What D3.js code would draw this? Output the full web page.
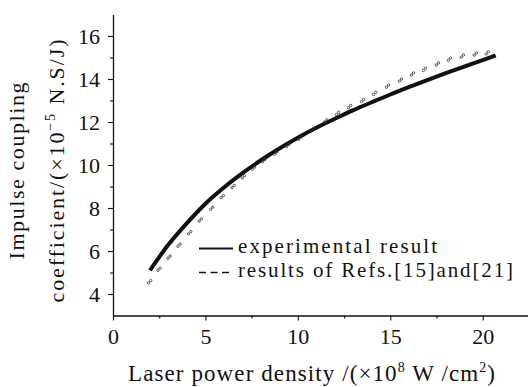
<!DOCTYPE html>
<html>
<head>
<meta charset="utf-8">
<script src="https://cdn.jsdelivr.net/npm/d3@7"></script>
<style>
  body { margin: 0; background: #fff; }
</style>
</head>
<body>
<svg id="chart" width="528" height="387"></svg>
<script>
// experimental result (solid curve)
var expX = [2, 3, 4, 5, 6, 7, 8, 9, 10, 11, 12, 13, 14, 15, 16, 17, 18, 19, 20, 20.7];
var expY = [5.1, 6.3, 7.3, 8.2, 8.95, 9.62, 10.22, 10.77, 11.27, 11.73, 12.15, 12.55, 12.92, 13.28, 13.62, 13.95, 14.27, 14.58, 14.88, 15.1];

// results of Refs.[15] and [21] (markers)
var refX = [1.98, 2.49, 3.03, 3.57, 4.15, 4.72, 5.34, 5.91, 6.5, 7.05, 7.6, 8.15, 8.8, 9.45, 10.1, 10.8, 11.5, 12.15, 12.8, 13.5, 14.15, 14.85, 15.55, 16.2, 16.85, 17.55, 18.2, 18.9, 19.6, 20.25];
var refY = [4.57, 5.15, 5.71, 6.27, 6.85, 7.44, 7.99, 8.53, 9.0, 9.45, 9.85, 10.2, 10.55, 10.9, 11.25, 11.65, 12.05, 12.4, 12.72, 13.0, 13.33, 13.67, 13.95, 14.23, 14.45, 14.7, 14.92, 15.07, 15.16, 15.22];

var xTicks = [0, 5, 10, 15, 20];
var xMinor = [2.5, 7.5, 12.5, 17.5];
var yTicks = [4, 6, 8, 10, 12, 14, 16];
var yMinor = [5, 7, 9, 11, 13, 15];

var FONT = "'Liberation Serif'";

var svg = d3.select("#chart"),
    MARGINS = { top: 14.5, right: 0, bottom: 71.5, left: 113 },
    WIDTH = 528, HEIGHT = 387;

var x = d3.scaleLinear().domain([0, 22.45]).range([MARGINS.left, WIDTH]);
var y = d3.scaleLinear().domain([3, 17]).range([HEIGHT - MARGINS.bottom, MARGINS.top]);

// axes
svg.append("g")
    .attr("transform", "translate(0," + y(3) + ")")
    .call(d3.axisBottom(x).tickValues(xTicks).tickSize(5).tickPadding(8).tickSizeOuter(0));
svg.append("g")
    .attr("transform", "translate(0," + y(3) + ")")
    .call(d3.axisBottom(x).tickValues(xMinor).tickSize(3).tickFormat("").tickSizeOuter(0))
    .select(".domain").remove();

svg.append("g")
    .attr("transform", "translate(" + x(0) + ",0)")
    .call(d3.axisLeft(y).tickValues(yTicks).tickSize(5).tickPadding(8).tickSizeOuter(0));
svg.append("g")
    .attr("transform", "translate(" + x(0) + ",0)")
    .call(d3.axisLeft(y).tickValues(yMinor).tickSize(3).tickFormat("").tickSizeOuter(0))
    .select(".domain").remove();

svg.selectAll("g").attr("font-family", null);
svg.selectAll(".domain").attr("stroke", "#111").attr("stroke-width", 1.3);
svg.selectAll(".tick line").attr("stroke", "#111").attr("stroke-width", 1.1);
svg.selectAll(".tick text")
    .style("font-family", FONT)
    .style("font-size", "22px")
    .attr("fill", "#111");

// solid curve
var expData = expX.map(function (d, i) { return [d, expY[i]]; });
svg.append("path")
    .datum(expData)
    .attr("fill", "none")
    .attr("stroke", "#111")
    .attr("stroke-width", 4)
    .attr("d", d3.line()
        .x(function (d) { return x(d[0]); })
        .y(function (d) { return y(d[1]); })
        .curve(d3.curveCatmullRom));

// markers
var refData = refX.map(function (d, i) { return [d, refY[i]]; });
var mk = svg.append("g").selectAll("g")
    .data(refData)
    .enter().append("g")
    .attr("transform", function (d) { return "translate(" + x(d[0]) + "," + y(d[1]) + ")"; });
mk.append("circle").attr("cx", -1.1).attr("cy", 1.1).attr("r", 1.2)
    .attr("fill", "none").attr("stroke", "#333").attr("stroke-width", 0.8);
mk.append("circle").attr("cx", 1.1).attr("cy", -1.1).attr("r", 1.2)
    .attr("fill", "none").attr("stroke", "#333").attr("stroke-width", 0.8);

// legend
svg.append("line")
    .attr("x1", 199).attr("x2", 233).attr("y1", 248.5).attr("y2", 248.5)
    .attr("stroke", "#111").attr("stroke-width", 2);
svg.append("line")
    .attr("x1", 199).attr("x2", 233).attr("y1", 272.5).attr("y2", 272.5)
    .attr("stroke", "#111").attr("stroke-width", 1.6)
    .attr("stroke-dasharray", "7,4.5");
svg.append("text")
    .attr("x", 238).attr("y", 253)
    .style("font-family", FONT).style("font-size", "21px").attr("fill", "#111")
    .attr("textLength", 199).attr("lengthAdjust", "spacing")
    .text("experimental result");
svg.append("text")
    .attr("x", 238).attr("y", 277)
    .style("font-family", FONT).style("font-size", "21px").attr("fill", "#111")
    .attr("textLength", 275).attr("lengthAdjust", "spacing")
    .text("results of Refs.[15]and[21]");

// x axis title
var xt = svg.append("text")
    .attr("x", 128).attr("y", 381)
    .style("font-family", FONT).style("font-size", "23px").attr("fill", "#111")
    .attr("textLength", 367).attr("lengthAdjust", "spacing");
xt.append("tspan").text("Laser power density /(\u00d710");
xt.append("tspan").style("font-size", "14px").attr("dy", -9).text("8");
xt.append("tspan").attr("dy", 9).text(" W /cm");
xt.append("tspan").style("font-size", "14px").attr("dy", -9).text("2");
xt.append("tspan").attr("dy", 9).text(")");

// y axis title (two lines)
svg.append("text")
    .attr("transform", "translate(24,171) rotate(-90)")
    .attr("text-anchor", "middle")
    .style("font-family", FONT).style("font-size", "22px").attr("fill", "#111")
    .attr("textLength", 177).attr("lengthAdjust", "spacing")
    .text("Impulse coupling");
var yt = svg.append("text")
    .attr("transform", "translate(64,171) rotate(-90)")
    .attr("text-anchor", "middle")
    .style("font-family", FONT).style("font-size", "22px").attr("fill", "#111")
    .attr("textLength", 263).attr("lengthAdjust", "spacing");
yt.append("tspan").text("coefficient/(\u00d710");
yt.append("tspan").style("font-size", "14px").attr("dy", -9).text("\u22125");
yt.append("tspan").attr("dy", 9).text(" N.S/J)");
</script>
</body>
</html>
